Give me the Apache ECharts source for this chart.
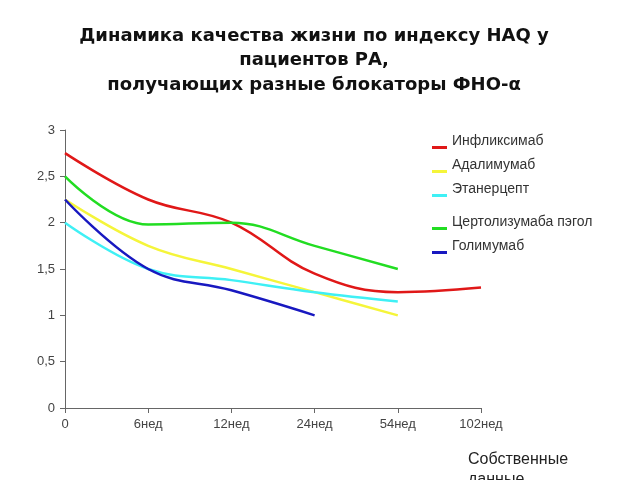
<!DOCTYPE html>
<html><head><meta charset="utf-8">
<script src="https://cdn.jsdelivr.net/npm/echarts@6/dist/echarts.min.js"></script>
<style>html,body{margin:0;padding:0;background:#fff}#c{width:640px;height:480px}</style>
</head><body><div id="c"></div>
<script>
const categories = ['0', '6нед', '12нед', '24нед', '54нед', '102нед'];
const seriesNames = ['Инфликсимаб', 'Адалимумаб', 'Этанерцепт', 'Цертолизумаба пэгол', 'Голимумаб'];
const infliximab = [2.75, 2.25, 2.0, 1.45, 1.25, 1.3];
const adalimumab = [2.25, 1.75, 1.5, 1.25, 1.0, null];
const etanercept = [2.0, 1.5, 1.38, 1.25, 1.15, null];
const certolizumab = [2.5, 1.98, 2.0, 1.75, 1.5, null];
const golimumab = [2.25, 1.5, 1.27, 1.0, null, null];
const colors = ['#e01818', '#f5f53a', '#3ff0f5', '#22dd22', '#1818c0'];
const allData = [infliximab, adalimumab, etanercept, certolizumab, golimumab];

const chart = echarts.init(document.getElementById('c'));
const legendCommon = {
  orient: 'vertical', left: 427, itemWidth: 15, itemHeight: 16, itemGap: 8,
  icon: 'path://M0,0L15,0L15,0.01L0,0.01ZM0,13L15,13L15,16L0,16Z',
  textStyle: { fontFamily: 'Liberation Sans, Arial', fontSize: 14, color: '#333' },
  selectedMode: false
};
chart.setOption({
  animation: false,
  title: [{
    text: 'Динамика качества жизни по индексу HAQ у\nпациентов РА,\nполучающих разные блокаторы ФНО-α',
    left: 309, top: 19, textAlign: 'center',
    textStyle: { fontFamily: 'DejaVu Sans', fontWeight: 'bold', fontSize: 18, lineHeight: 24.5, color: '#111' }
  }, {
    text: 'Собственные\nданные', left: 463, top: 445,
    textStyle: { fontFamily: 'Liberation Sans, Arial', fontWeight: 'normal', fontSize: 16, lineHeight: 20, color: '#222' }
  }],
  legend: [
    Object.assign({}, legendCommon, { top: 128, data: seriesNames.slice(0, 3) }),
    Object.assign({}, legendCommon, { top: 209, data: seriesNames.slice(3) })
  ],
  grid: { left: 65, right: 159, top: 130, bottom: 72 },
  xAxis: {
    type: 'category', data: categories, boundaryGap: false,
    axisLine: { lineStyle: { color: '#666' } },
    axisTick: { length: 5, lineStyle: { color: '#666' } },
    axisLabel: { color: '#444', fontFamily: 'Liberation Sans, Arial', fontSize: 13, margin: 10 }
  },
  yAxis: {
    type: 'value', min: 0, max: 3, interval: 0.5,
    splitLine: { show: false },
    axisLine: { show: true, lineStyle: { color: '#666' } },
    axisTick: { show: true, length: 5, lineStyle: { color: '#666' } },
    axisLabel: { color: '#444', fontFamily: 'Liberation Sans, Arial', fontSize: 13, margin: 10,
      formatter: v => String(v).replace('.', ',') }
  },
  series: seriesNames.map((n, i) => ({
    name: n, type: 'line', data: allData[i], smooth: 0.4, showSymbol: false, symbol: 'none',
    connectNulls: false,
    lineStyle: { width: 2.5, color: colors[i] }, itemStyle: { color: colors[i] }
  }))
});
</script></body></html>
